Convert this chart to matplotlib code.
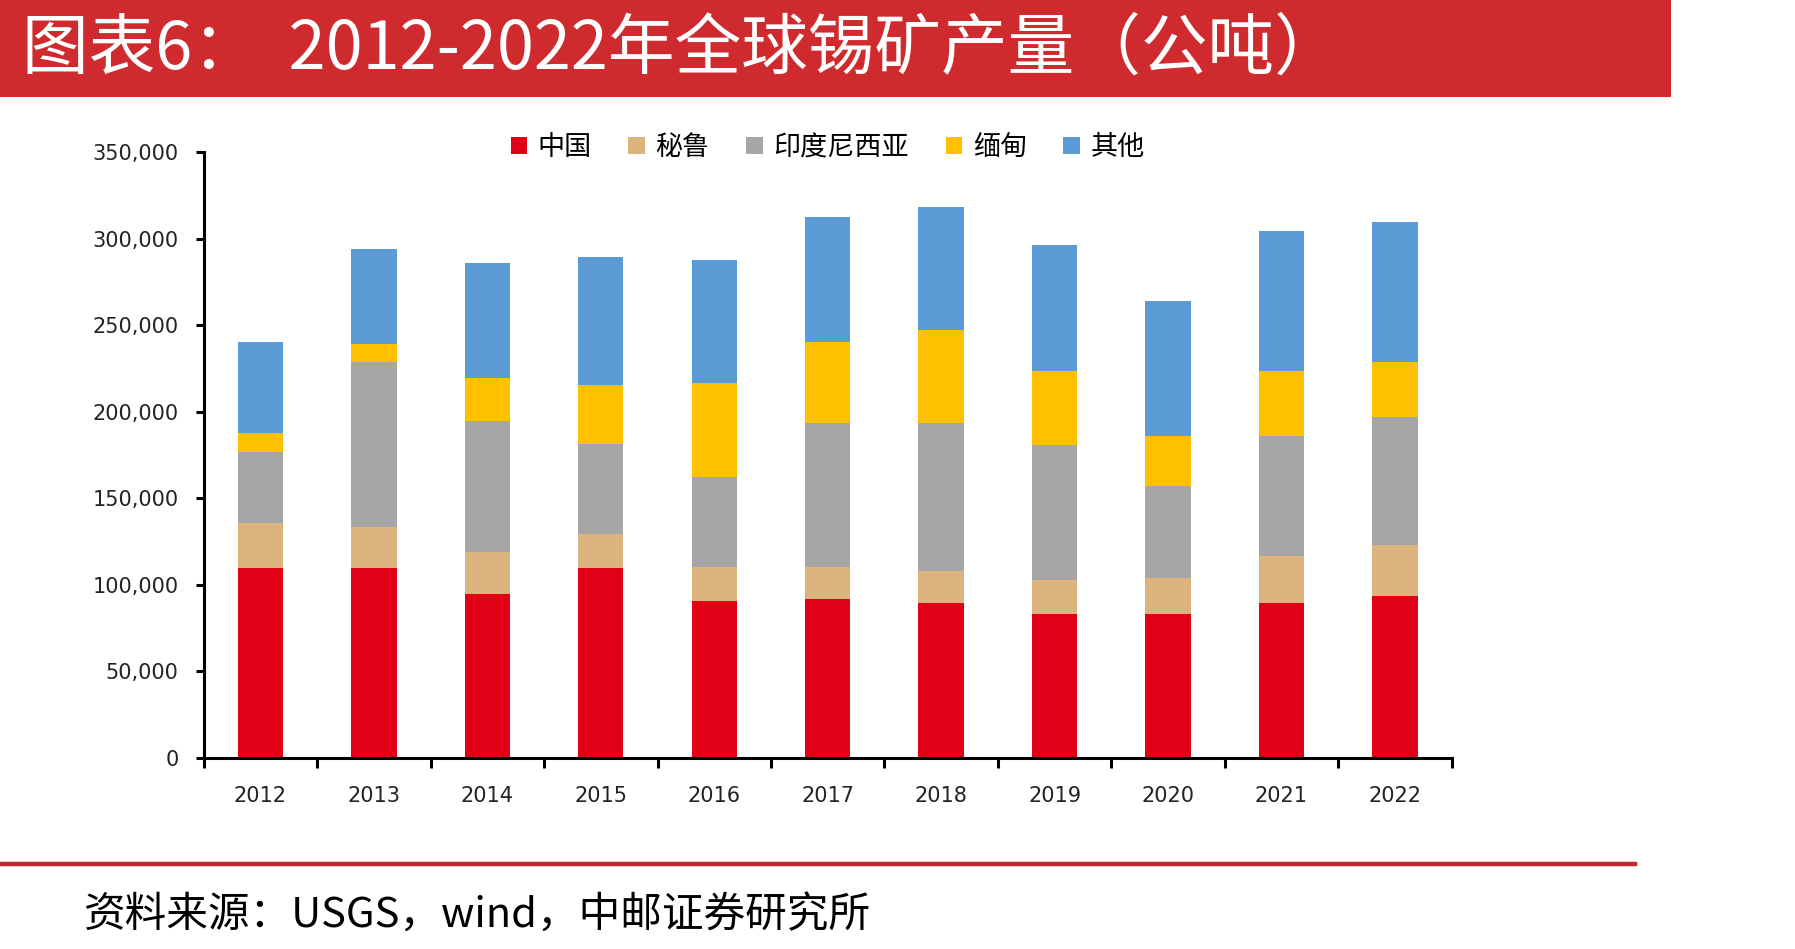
import matplotlib
matplotlib.use("Agg")
import matplotlib.pyplot as plt
from matplotlib.patches import Rectangle
from matplotlib.lines import Line2D
from matplotlib.ticker import FuncFormatter, FixedLocator
import numpy as np

years = ["2012", "2013", "2014", "2015", "2016", "2017", "2018", "2019", "2020", "2021", "2022"]
china = [110000, 110000, 95000, 110000, 90700, 91600, 89600, 83400, 83400, 89600, 93800]
peru = [25500, 23300, 23800, 19500, 19700, 18800, 18600, 19500, 20800, 26800, 29000]
indonesia = [41400, 95300, 75700, 51900, 52100, 82900, 85100, 78000, 52800, 69900, 74500]
myanmar = [10700, 10400, 25000, 34400, 53900, 46800, 54200, 42800, 29300, 37400, 31300]
others = [52700, 55200, 66500, 73600, 71400, 72800, 70700, 72500, 77800, 81000, 81200]

series_names = ["中国", "秘鲁", "印度尼西亚", "缅甸", "其他"]
series_colors = ["#E10016", "#DCB47E", "#A6A6A6", "#FFC000", "#5B9BD5"]

plt.rcParams['font.family'] = ['Noto Sans CJK SC', 'DejaVu Sans']

fig = plt.figure(figsize=(17.95, 9.49), dpi=100)
fig.patch.set_facecolor("white")

# Title banner
fig.patches.append(Rectangle((0, 0.8978), 0.931, 0.1022, transform=fig.transFigure,
                             facecolor="#CF2B2F", edgecolor="none", zorder=0))
fig.text(0.012, 0.947, "图表6：  2012-2022年全球锡矿产量（公吨）", color="white",
         fontsize=48, va="center", ha="left")

# Footer line + source
fig.lines.append(Line2D([0, 0.911], [0.0896, 0.0896], transform=fig.transFigure,
                        color="#C0272D", linewidth=3.2))
fig.text(0.0468, 0.036, "资料来源：USGS，wind，中邮证券研究所", color="black",
         fontsize=30, va="center", ha="left")

ax = fig.add_axes([0.1135, 0.2014, 0.6952, 0.6381])
x = np.arange(len(years))
bottom = np.zeros(len(years))
data = [china, peru, indonesia, myanmar, others]
handles = []
for vals, name, col in zip(data, series_names, series_colors):
    b = ax.bar(x, vals, width=0.40, bottom=bottom, color=col, label=name,
               edgecolor="none", zorder=2)
    handles.append(b)
    bottom = bottom + np.array(vals)

ax.set_xlim(-0.5, len(years) - 0.5)
ax.set_ylim(0, 350000)
ax.set_yticks(np.arange(0, 350001, 50000))
ax.yaxis.set_major_formatter(FuncFormatter(lambda v, p: f"{int(v):,}"))
ax.set_xticks(x)
ax.set_xticklabels(years)
ax.xaxis.set_minor_locator(FixedLocator(np.arange(-0.5, len(years), 1.0)))
ax.tick_params(axis="x", which="major", length=0, pad=20, labelsize=15)
ax.tick_params(axis="x", which="minor", length=7, width=2.2, direction="out")
ax.tick_params(axis="y", which="major", length=6, width=2.2, direction="out", pad=12,
               labelsize=15)
for lbl in ax.get_xticklabels() + ax.get_yticklabels():
    lbl.set_fontfamily("DejaVu Sans")
    lbl.set_color("#222222")

for s in ["top", "right"]:
    ax.spines[s].set_visible(False)
for s in ["left", "bottom"]:
    ax.spines[s].set_linewidth(2.2)
    ax.spines[s].set_color("black")

leg = ax.legend(handles=handles, labels=series_names, loc="upper center",
                bbox_to_anchor=(0.5, 1.048), ncol=5, frameon=False, fontsize=19.5,
                handlelength=0.6, handleheight=0.6, handletextpad=0.4,
                columnspacing=1.35, borderaxespad=0)

fig.savefig("out.png", dpi=100, facecolor="white")
